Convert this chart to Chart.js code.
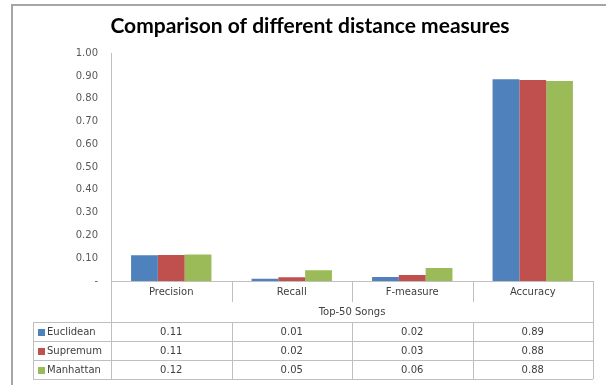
<!DOCTYPE html>
<html>
<head>
<meta charset="utf-8">
<script src="https://cdn.jsdelivr.net/npm/chart.js@4.4.0/dist/chart.umd.min.js"></script>
<style>
  html, body { margin: 0; padding: 0; background: #fff; }
  #wrap { width: 606px; height: 385px; position: relative; }
</style>
</head>
<body>
<div id="wrap"><canvas id="chart_distanceMeasures"></canvas></div>
<script>
// data
var categories = ['Precision', 'Recall', 'F-measure', 'Accuracy'];
var groupLabel = 'Top-50 Songs';
var seriesNames = ['Euclidean', 'Supremum', 'Manhattan'];
var euclidean = [0.113, 0.010, 0.018, 0.886];
var supremum = [0.114, 0.016, 0.026, 0.882];
var manhattan = [0.116, 0.047, 0.057, 0.878];
var seriesColors = ['#4f81bd', '#c0504d', '#9bbb59'];

var FONT = '"DejaVu Sans", sans-serif';
var TEXT = '#404040';
var LINE = '#bfbfbf';

var seriesValues = [euclidean, supremum, manhattan];

// Excel-style data table under the plot, drawn from the same arrays
var dataTablePlugin = {
    id: 'dataTable',
    beforeDraw: function (chart) {
        var ctx = chart.ctx;
        ctx.save();
        ctx.fillStyle = 'white';
        ctx.fillRect(0, 0, chart.width, chart.height);
        // outer chart border
        ctx.strokeStyle = '#a6a6a6';
        ctx.lineWidth = 2;
        ctx.strokeRect(12, 5, chart.width + 20, chart.height + 20);
        ctx.restore();
    },
    afterDraw: function (chart) {
        var ctx = chart.ctx;
        var a = chart.chartArea;
        var n = categories.length;
        var w = (a.right - a.left) / n;
        var tableLeft = 33;
        var headerBottom = 302;
        var rowLines = [322, 341, 360, 379];

        ctx.save();
        ctx.strokeStyle = LINE;
        ctx.lineWidth = 1;
        ctx.beginPath();
        // axis line
        ctx.moveTo(a.left, a.bottom + 0.5);
        ctx.lineTo(a.right, a.bottom + 0.5);
        // y axis continued through the table
        ctx.moveTo(a.left + 0.5, a.bottom);
        ctx.lineTo(a.left + 0.5, rowLines[rowLines.length - 1]);
        // right border
        ctx.moveTo(Math.round(a.right) + 0.5, a.bottom);
        ctx.lineTo(Math.round(a.right) + 0.5, rowLines[rowLines.length - 1]);
        // separators between categories
        for (var i = 1; i < n; i++) {
            var x = Math.round(a.left + i * w) + 0.5;
            ctx.moveTo(x, a.bottom);
            ctx.lineTo(x, headerBottom);
            ctx.moveTo(x, rowLines[0]);
            ctx.lineTo(x, rowLines[rowLines.length - 1]);
        }
        // row lines
        rowLines.forEach(function (y) {
            ctx.moveTo(tableLeft, y + 0.5);
            ctx.lineTo(a.right, y + 0.5);
        });
        ctx.moveTo(tableLeft + 0.5, rowLines[0]);
        ctx.lineTo(tableLeft + 0.5, rowLines[rowLines.length - 1]);
        ctx.stroke();

        ctx.fillStyle = TEXT;
        ctx.font = '10px ' + FONT;
        ctx.textAlign = 'center';
        ctx.textBaseline = 'middle';
        categories.forEach(function (c, i) {
            ctx.fillText(c, a.left + (i + 0.5) * w, 292);
        });
        ctx.fillText(groupLabel, (a.left + a.right) / 2, 312);

        seriesNames.forEach(function (name, r) {
            var yc = (rowLines[r] + rowLines[r + 1]) / 2 + 1;
            ctx.fillStyle = seriesColors[r];
            ctx.fillRect(38, yc - 3.5, 7, 7);
            ctx.fillStyle = TEXT;
            ctx.textAlign = 'left';
            ctx.fillText(name, 47, yc);
            ctx.textAlign = 'center';
            seriesValues[r].forEach(function (v, i) {
                ctx.fillText(v.toFixed(2), a.left + (i + 0.5) * w, yc);
            });
        });
        ctx.restore();
    }
};

var chart_distanceMeasures = new Chart(document.getElementById('chart_distanceMeasures'), {
    type: 'bar',
    data: {
        labels: categories,
        datasets: seriesNames.map(function (name, i) {
            return {
                label: name,
                data: seriesValues[i],
                backgroundColor: seriesColors[i],
                borderWidth: 0,
                categoryPercentage: 0.667,
                barPercentage: 1.0
            };
        })
    },
    options: {
        animation: false,
        responsive: true,
        maintainAspectRatio: false,
        layout: {
            padding: { left: 27, right: 13, top: 0, bottom: 104 }
        },
        plugins: {
            legend: { display: false },
            tooltip: { enabled: false },
            title: {
                display: true,
                text: 'Comparison of different distance measures',
                color: '#000',
                font: { family: 'Lato, sans-serif', size: 21, weight: 'bold', lineHeight: 1.2 },
                padding: { top: 14, bottom: 14 }
            }
        },
        scales: {
            x: {
                display: false
            },
            y: {
                min: 0,
                max: 1,
                afterFit: function (scale) { scale.width = 84; },
                ticks: {
                    stepSize: 0.1,
                    padding: 13,
                    color: '#595959',
                    font: { family: FONT, size: 10 },
                    callback: function (v) { return v === 0 ? '-' : Number(v).toFixed(2); }
                },
                grid: { display: false, drawTicks: false },
                border: { display: true, color: LINE, width: 1 }
            }
        }
    },
    plugins: [dataTablePlugin]
});
</script>
</body>
</html>
